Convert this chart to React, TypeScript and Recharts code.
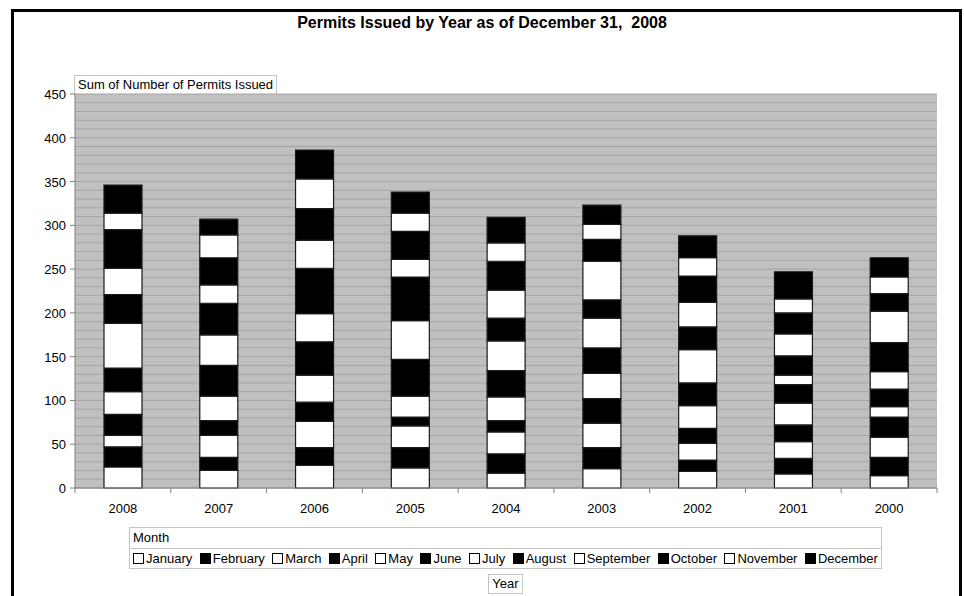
import { BarChart, Bar, XAxis, YAxis, CartesianGrid, Legend } from "recharts";

const years = ["2008", "2007", "2006", "2005", "2004", "2003", "2002", "2001", "2000"];

const months = [
  "January", "February", "March", "April", "May", "June",
  "July", "August", "September", "October", "November", "December",
];

// permits per month, one value per year (2008 .. 2000)
const january = [24, 20, 26, 23, 17, 22, 19, 16, 14];
const february = [23, 15, 20, 23, 22, 24, 13, 18, 21];
const march = [13, 25, 30, 25, 25, 28, 19, 19, 23];
const april = [24, 17, 22, 10, 13, 28, 17, 19, 23];
const may = [26, 28, 31, 24, 27, 29, 26, 25, 12];
const june = [27, 35, 38, 42, 30, 29, 26, 21, 20];
const july = [51, 35, 32, 44, 34, 34, 38, 11, 20];
const august = [33, 36, 52, 50, 26, 21, 26, 22, 33];
const september = [30, 21, 32, 20, 32, 44, 28, 25, 36];
const october = [44, 31, 36, 32, 33, 25, 30, 24, 20];
const november = [19, 26, 34, 21, 21, 17, 21, 16, 19];
const december = [32, 18, 33, 24, 29, 22, 25, 31, 22];

const monthValues = [
  january, february, march, april, may, june,
  july, august, september, october, november, december,
];

// gridlines every 10, labels only every 50
const gridTicks = [
  0, 10, 20, 30, 40, 50, 60, 70, 80, 90, 100, 110, 120, 130, 140, 150,
  160, 170, 180, 190, 200, 210, 220, 230, 240, 250, 260, 270, 280, 290, 300,
  310, 320, 330, 340, 350, 360, 370, 380, 390, 400, 410, 420, 430, 440, 450,
];
const labelStep = 50;

const monthFills = [
  "#ffffff", "#000000", "#ffffff", "#000000", "#ffffff", "#000000",
  "#ffffff", "#000000", "#ffffff", "#000000", "#ffffff", "#000000",
];

const data = years.map((year, i) => {
  const row: Record<string, string | number> = { year };
  months.forEach((m, j) => {
    row[m] = monthValues[j][i];
  });
  return row;
});

const FONT = "Arial, 'Liberation Sans', sans-serif";
const BOX_BORDER = "1px solid #c4c4c4";
const AXIS = "#808080";

// year label plus tick marks on the category boundaries (Excel style)
function YearTick(props: any) {
  const { x, y, payload, index, width, visibleTicksCount } = props;
  const half = payload?.offset ? payload.offset : width / visibleTicksCount / 2;
  return (
    <g>
      <line x1={x - half} y1={y} x2={x - half} y2={y + 5} stroke={AXIS} />
      {index === visibleTicksCount - 1 && (
        <line x1={x + half} y1={y} x2={x + half} y2={y + 5} stroke={AXIS} />
      )}
      <text x={x} y={y + 25} textAnchor="middle" fontSize={13} fill="#000">
        {payload.value}
      </text>
    </g>
  );
}

function ValueTick(props: any) {
  const { x, y, payload } = props;
  if (payload.value % labelStep !== 0) return null;
  return (
    <g>
      <line x1={x} y1={y} x2={x + 5} y2={y} stroke={AXIS} />
      <text x={x - 4} y={y} dy={5} textAnchor="end" fontSize={13} fill="#000">
        {payload.value}
      </text>
    </g>
  );
}

function MonthLegend() {
  return (
    <div style={{ fontFamily: FONT, fontSize: 13, color: "#000" }}>
      <div style={{ border: BOX_BORDER, background: "#fff" }}>
        <div style={{ height: 20, lineHeight: "20px", paddingLeft: 3, borderBottom: BOX_BORDER }}>
          Month
        </div>
        <div
          style={{
            height: 19,
            lineHeight: "19px",
            display: "flex",
            justifyContent: "space-between",
            alignItems: "center",
            padding: "0 3px",
          }}
        >
          {months.map((m, i) => (
            <span key={m} style={{ display: "flex", alignItems: "center" }}>
              <span
                style={{
                  display: "inline-block",
                  width: 9,
                  height: 9,
                  border: "1px solid #000",
                  background: monthFills[i],
                  marginRight: 2,
                }}
              />
              {m}
            </span>
          ))}
        </div>
      </div>
      <div style={{ display: "flex", justifyContent: "center", marginTop: 5 }}>
        <div style={{ border: BOX_BORDER, padding: "0 3px", height: 18, lineHeight: "18px", background: "#fff" }}>
          Year
        </div>
      </div>
    </div>
  );
}

export default function App() {
  return (
    <div
      style={{
        position: "absolute",
        left: 0,
        top: 0,
        width: 964,
        height: 596,
        overflow: "hidden",
        background: "#fff",
        fontFamily: FONT,
      }}
    >
      {/* black frame round the chart */}
      <div
        style={{
          position: "absolute",
          left: 11,
          top: 9,
          width: 945,
          height: 620,
          border: "3px solid #000",
        }}
      />
      <div
        style={{
          position: "absolute",
          left: 0,
          top: 14,
          width: 964,
          textAlign: "center",
          fontSize: 16,
          fontWeight: "bold",
          color: "#000",
        }}
      >
        Permits Issued by Year as of December 31,&nbsp; 2008
      </div>
      <div
        style={{
          position: "absolute",
          left: 74,
          top: 75,
          height: 18,
          lineHeight: "18px",
          padding: "0 3px",
          border: BOX_BORDER,
          borderBottom: "none",
          fontSize: 13,
          color: "#000",
          background: "#fff",
        }}
      >
        Sum of Number of Permits Issued
      </div>
      <div style={{ position: "absolute", left: 0, top: 0 }}>
        <BarChart
          width={964}
          height={596}
          data={data}
          margin={{ top: 94, right: 27, bottom: 78, left: 15 }}
          barCategoryGap={0}
        >
          <CartesianGrid vertical={false} fill="#c0c0c0" fillOpacity={1} stroke="#a4a4a4" />
          <XAxis
            dataKey="year"
            height={30}
            tickSize={0}
            tickMargin={0}
            tickLine={false}
            axisLine={{ stroke: AXIS }}
            tick={<YearTick />}
            interval={0}
          />
          <YAxis
            width={60}
            domain={[0, 450]}
            ticks={gridTicks}
            interval={0}
            tickSize={5}
            tickMargin={0}
            tickLine={false}
            axisLine={{ stroke: AXIS }}
            tick={<ValueTick />}
          />
          <YAxis
            yAxisId="edge"
            orientation="right"
            width={0}
            tick={false}
            tickLine={false}
            axisLine={{ stroke: AXIS, strokeWidth: 2 }}
          />
          <Legend
            layout="horizontal"
            verticalAlign="middle"
            align="center"
            wrapperStyle={{ top: 527, left: 129, width: 753, height: "auto" }}
            content={() => <MonthLegend />}
          />
          {months.map((m, i) => (
            <Bar
              key={m}
              dataKey={m}
              stackId="months"
              fill={monthFills[i]}
              stroke="#1a1a1a"
              strokeWidth={1.2}
              barSize={38}
              isAnimationActive={false}
            />
          ))}
        </BarChart>
      </div>
    </div>
  );
}
